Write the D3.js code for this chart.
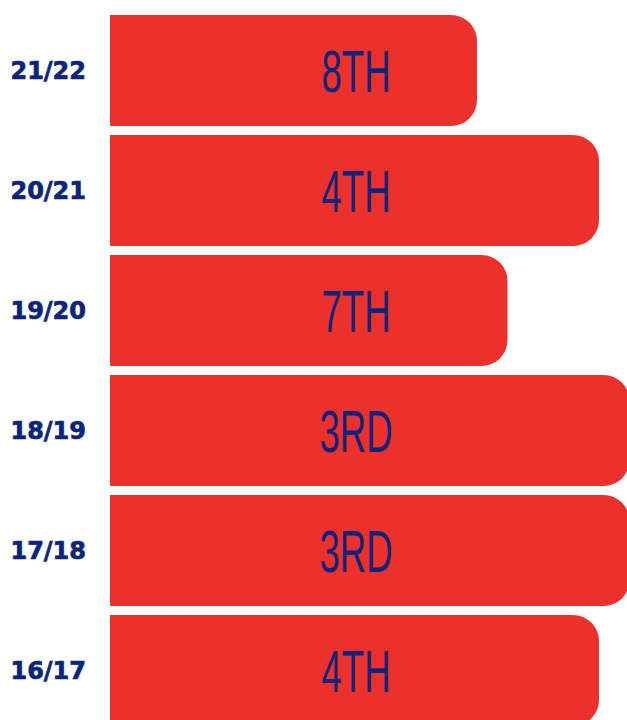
<!DOCTYPE html>
<html>
<head>
<meta charset="utf-8">
<script src="https://cdn.jsdelivr.net/npm/d3@7/dist/d3.min.js"></script>
<style>
  html, body { margin: 0; padding: 0; background: #fff; overflow: hidden; }
  #chart { width: 627px; height: 720px; }
  .season { font-family: "DejaVu Sans", sans-serif; font-weight: 700; font-size: 24px; fill: #0c247a; stroke: #0c247a; stroke-width: 0.7px; }
  .place { font-family: "Liberation Sans", Arial, sans-serif; font-size: 59px; fill: #0c247a; }
</style>
</head>
<body>
<div id="chart"></div>
<script>
/* league finish by season — longer bar = higher finish */
const SEASONS = ['21/22', '20/21', '19/20', '18/19', '17/18', '16/17'];
const POSITIONS = [8, 4, 7, 3, 3, 4];
const PLACE_LABELS = ['8TH', '4TH', '7TH', '3RD', '3RD', '4TH'];

const W = 627, H = 720;
const RED = '#ec302b';
const BAR_LEFT = 110;
const R = 26;

const rows = SEASONS.map((s, i) => ({ season: s, pos: POSITIONS[i], label: PLACE_LABELS[i] }));

const svg = d3.select('#chart').append('svg')
  .attr('width', W).attr('height', H)
  .attr('viewBox', `0 0 ${W} ${H}`);

const y = d3.scaleBand().domain(SEASONS)
  .range([15, 726]).paddingInner(0.075).paddingOuter(0);

/* rank 8 ends at 477, rank 4 at 599; rank 3 runs off the right edge */
const x = d3.scaleLinear().domain([8, 4]).range([477, 599]);

/* bar with square left end and rounded right end */
function barPath(d) {
  const x0 = BAR_LEFT, x1 = x(d.pos);
  const y0 = y(d.season), y1 = y0 + y.bandwidth();
  return `M${x0},${y0}H${x1 - R}A${R},${R} 0 0 1 ${x1},${y0 + R}` +
    `V${y1 - R}A${R},${R} 0 0 1 ${x1 - R},${y1}H${x0}Z`;
}

svg.append('g').selectAll('path').data(rows).join('path')
  .attr('d', barPath)
  .attr('fill', RED);

svg.append('g').selectAll('text').data(rows).join('text')
  .attr('class', 'season')
  .attr('x', 86)
  .attr('y', (d) => y(d.season) + y.bandwidth() / 2 + 8)
  .attr('text-anchor', 'end')
  .text((d) => d.season);

/* condensed place labels, squeezed horizontally around a fixed centre */
svg.append('g').selectAll('text').data(rows).join('text')
  .attr('class', 'place')
  .attr('text-anchor', 'middle')
  .attr('transform', (d) => `translate(356, ${y(d.season) + y.bandwidth() / 2 + 21}) scale(0.62, 1)`)
  .text((d) => d.label);
</script>
</body>
</html>
